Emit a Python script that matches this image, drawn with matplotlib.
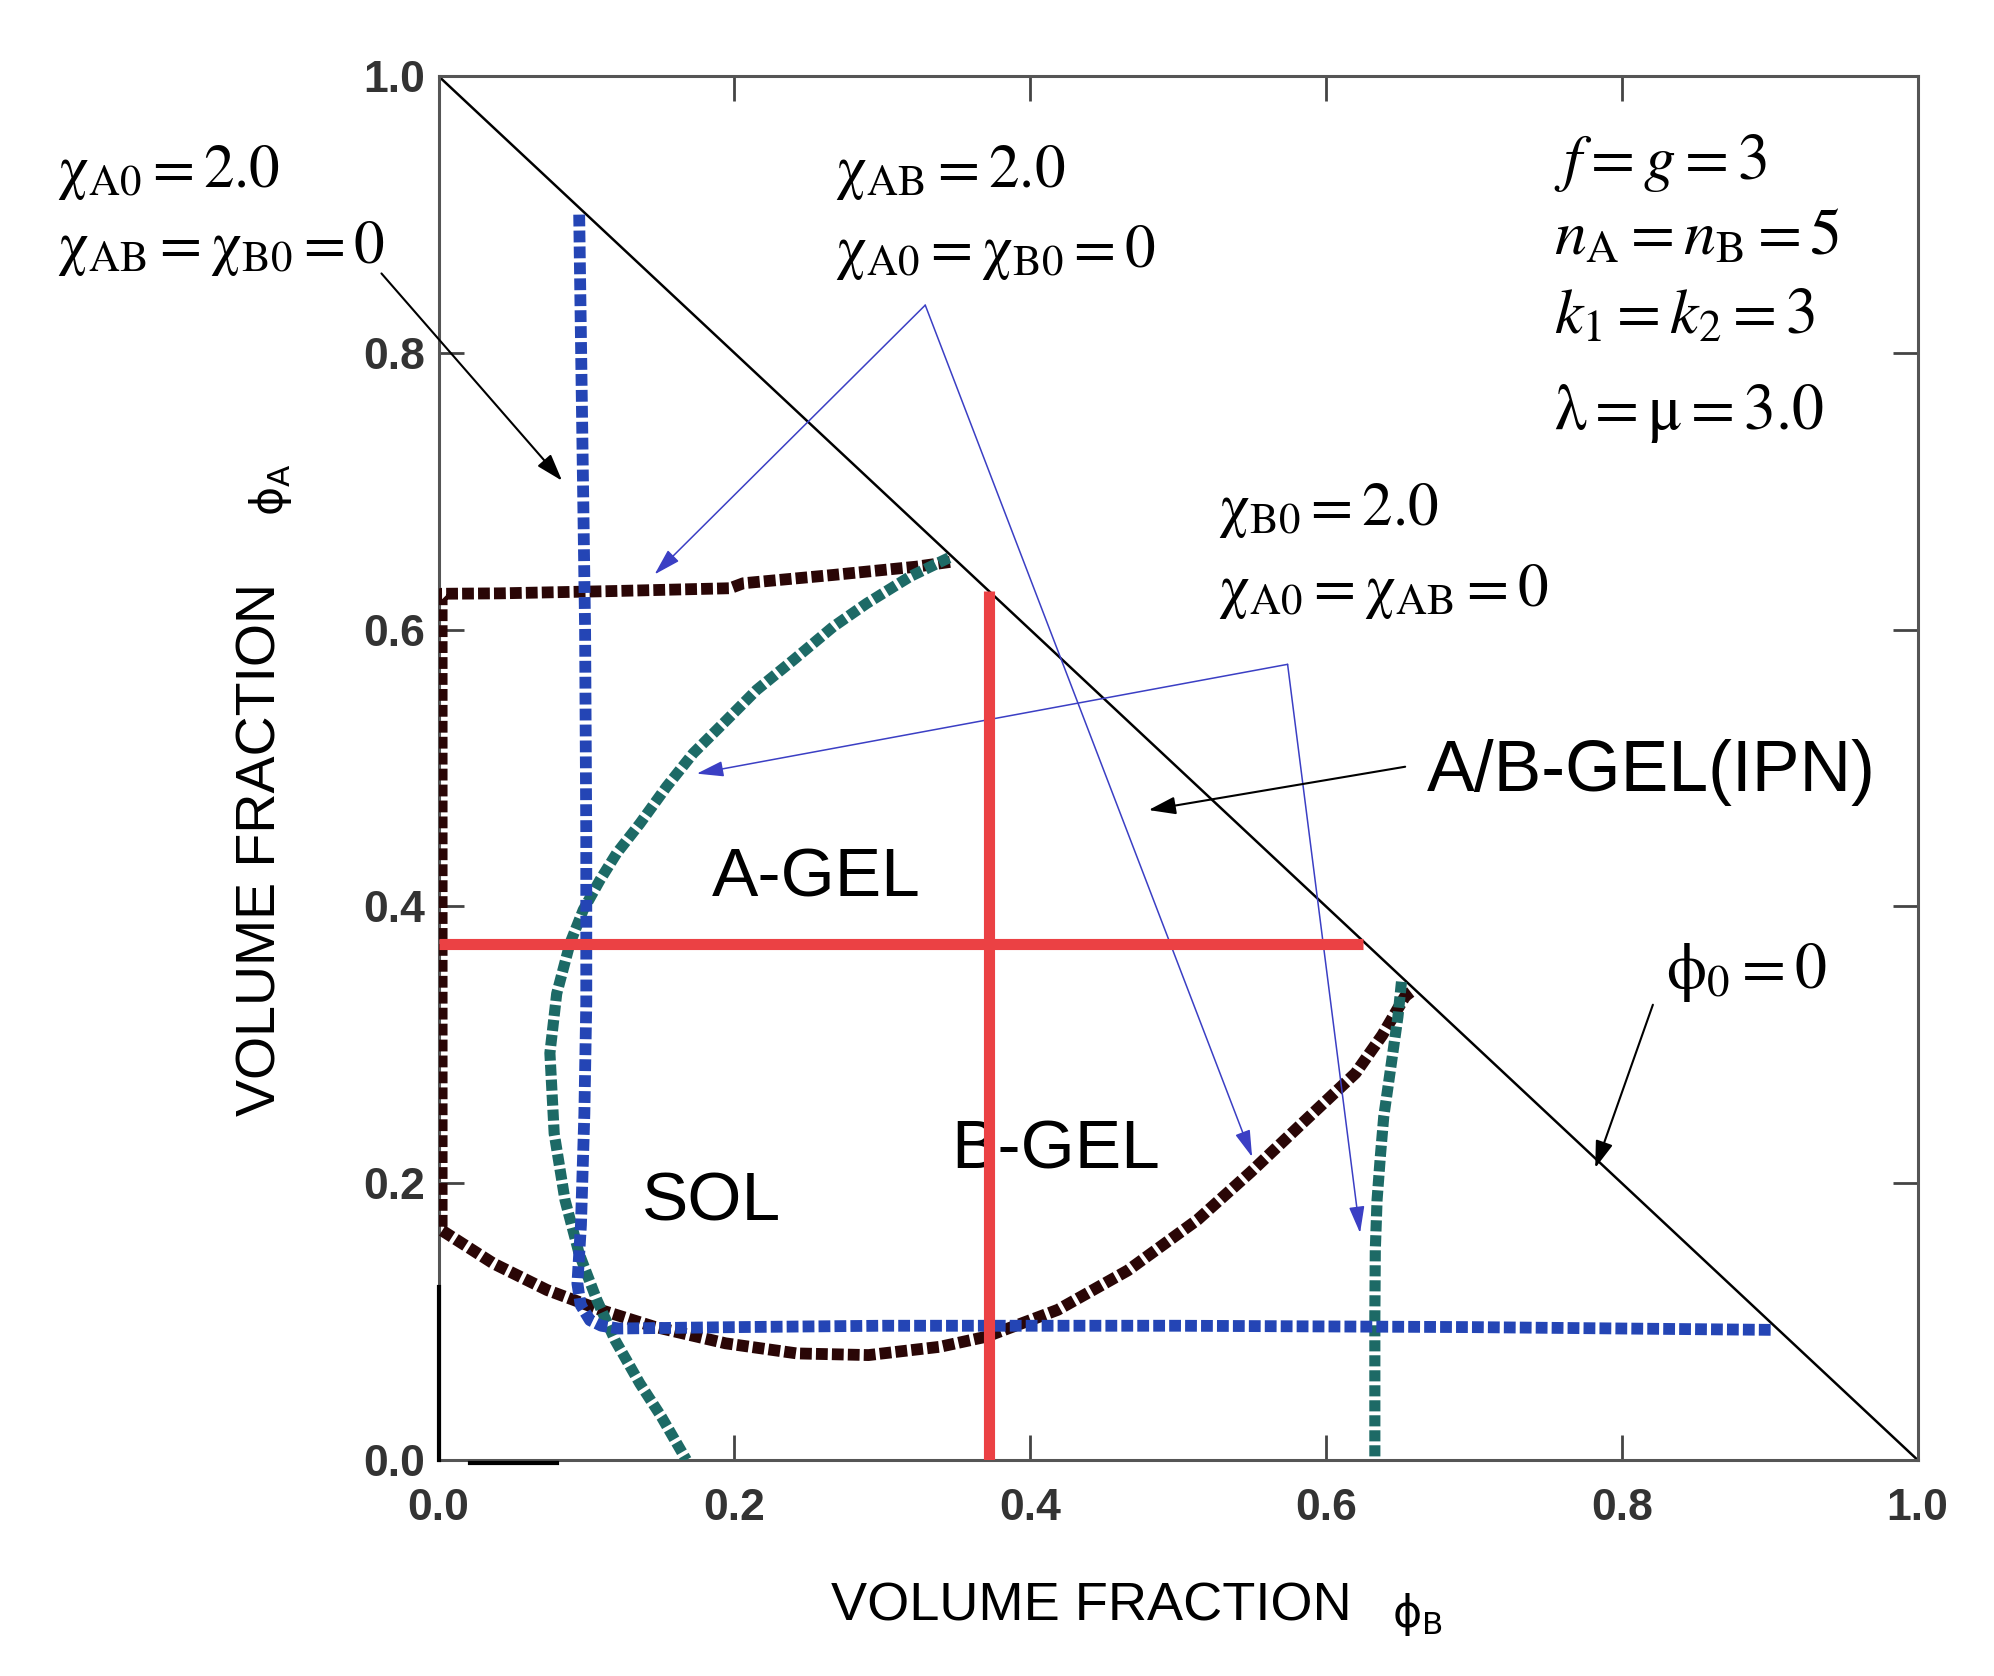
import matplotlib
matplotlib.use("Agg")
import matplotlib.pyplot as plt

plt.rcParams["mathtext.fontset"] = "stix"
plt.rcParams["font.family"] = ["Liberation Sans", "DejaVu Sans"]

# boundary curves (phi_B, phi_A)
blue_x = [0.095, 0.097, 0.099, 0.0998, 0.0998, 0.0985, 0.0962, 0.0938, 0.096, 0.1023,
          0.110, 0.1216, 0.2, 0.3, 0.4, 0.5, 0.6, 0.7, 0.8, 0.903]
blue_y = [0.900, 0.75, 0.60, 0.45, 0.33, 0.25, 0.17, 0.1275, 0.112, 0.101,
          0.097, 0.095, 0.096, 0.097, 0.097, 0.097, 0.0965, 0.096, 0.095, 0.094]

brown_x = [0.3457, 0.3231, 0.2668, 0.206, 0.197, 0.12, 0.0414, 0.002, 0.002, 0.002,
           0.002, 0.037, 0.0733, 0.1095, 0.1457, 0.194, 0.2422, 0.2906, 0.339, 0.370,
           0.4186, 0.466, 0.513, 0.549, 0.584, 0.620, 0.638, 0.6534, 0.659]
brown_y = [0.649, 0.6456, 0.6396, 0.6336, 0.630, 0.628, 0.6263, 0.626, 0.45, 0.30,
           0.166, 0.142, 0.1228, 0.1084, 0.0963, 0.0843, 0.077, 0.0758, 0.0818, 0.089,
           0.1085, 0.137, 0.1735, 0.208, 0.2434, 0.2796, 0.307, 0.335, 0.3396]

teal1_x = [0.345, 0.3187, 0.2894, 0.2668, 0.2397, 0.215, 0.1947, 0.1721, 0.1541, 0.1361,
           0.1203, 0.109, 0.0977, 0.0888, 0.0798, 0.0752, 0.0757, 0.0781, 0.0854, 0.095,
           0.107, 0.1192, 0.136, 0.1506, 0.1675]
teal1_y = [0.652, 0.6384, 0.619, 0.6022, 0.578, 0.5565, 0.5347, 0.5107, 0.4866, 0.46,
           0.4384, 0.419, 0.3974, 0.3734, 0.337, 0.294, 0.2842, 0.236, 0.1879, 0.149,
           0.1155, 0.0867, 0.0553, 0.0312, 0.0]

teal2_x = [0.651, 0.6486, 0.6438, 0.639, 0.6367, 0.6345, 0.6333, 0.633, 0.633]
teal2_y = [0.3456, 0.3203, 0.284, 0.248, 0.2192, 0.188, 0.1517, 0.1035, 0.0]

# red guide lines
red_v_x, red_v_y = [0.372, 0.372], [0.0, 0.628]
red_h_x, red_h_y = [0.0, 0.625], [0.373, 0.373]

diag_x, diag_y = [0.0, 1.0], [1.0, 0.0]

ticks = [0.0, 0.2, 0.4, 0.6, 0.8, 1.0]
tick_labels = ["0.0", "0.2", "0.4", "0.6", "0.8", "1.0"]

fig = plt.figure(figsize=(19.94, 16.76), dpi=100)
ax = fig.add_axes([0.220, 0.1289, 0.7417, 0.8256])
ax.set_xlim(0, 1)
ax.set_ylim(0, 1)

ax.plot(diag_x, diag_y, color="black", lw=1.8, zorder=2)

dot = (0, (1, 0.35))
ax.plot(brown_x, brown_y, color="#2a0606", lw=8.5, ls=dot, dash_capstyle="butt", zorder=3)
ax.plot(teal1_x, teal1_y, color="#1d6a66", lw=8, ls=dot, dash_capstyle="butt", zorder=3)
ax.plot(teal2_x, teal2_y, color="#1d6a66", lw=8, ls=dot, dash_capstyle="butt", zorder=3)
ax.plot(blue_x, blue_y, color="#2445b5", lw=8.5, ls=dot, dash_capstyle="butt", zorder=4)

ax.plot(red_v_x, red_v_y, color="#eb4144", lw=8, solid_capstyle="butt", zorder=5)
ax.plot(red_h_x, red_h_y, color="#eb4144", lw=8, solid_capstyle="butt", zorder=5)

# stray dark strokes near the origin
ax.plot([0.0, 0.0], [0.0, 0.125], color="black", lw=3, clip_on=False, zorder=6)
ax.plot([0.021, 0.080], [-0.002, -0.002], color="black", lw=3, clip_on=False, zorder=6)

for s in ax.spines.values():
    s.set_color("#555555")
    s.set_linewidth(2.2)
ax.set_xticks(ticks)
ax.set_yticks(ticks)
ax.set_xticklabels(tick_labels)
ax.set_yticklabels(tick_labels)
ax.tick_params(direction="in", length=18, width=2, color="#444444", top=True, right=True,
               labelsize=32, labelcolor="#333333")
ax.tick_params(axis="x", pad=20)
ax.tick_params(axis="y", pad=10)
for lab in ax.get_xticklabels() + ax.get_yticklabels():
    lab.set_fontweight("bold")

# axis labels
ax.text(0.441, -0.106, "VOLUME FRACTION", ha="center", va="center", fontsize=39,
        clip_on=False)
ax.text(0.662, -0.112, r"$\mathrm{\phi}_{\mathrm{B}}$", ha="center", va="center",
        fontsize=32, math_fontfamily="dejavusans", clip_on=False)
ax.text(-0.120, 0.441, "VOLUME FRACTION", ha="center", va="center", rotation=90,
        fontsize=40, clip_on=False)
ax.text(-0.114, 0.701, r"$\mathrm{\phi}_{\mathrm{A}}$", ha="center", va="center",
        rotation=90, fontsize=32, math_fontfamily="dejavusans", clip_on=False)

# parameter annotations
serif = dict(fontsize=44, ha="left", va="baseline", clip_on=False)
ax.text(-0.258, 0.920, r"$\mathrm{\chi}_{\rm A0} = 2.0$", **serif)
ax.text(-0.258, 0.865, r"$\mathrm{\chi}_{\rm AB} = \mathrm{\chi}_{\rm B0} = 0$", **serif)
ax.text(0.268, 0.920, r"$\mathrm{\chi}_{\rm AB} = 2.0$", **serif)
ax.text(0.268, 0.862, r"$\mathrm{\chi}_{\rm A0} = \mathrm{\chi}_{\rm B0} = 0$", **serif)
ax.text(0.527, 0.6755, r"$\mathrm{\chi}_{\rm B0} = 2.0$", **serif)
ax.text(0.527, 0.617, r"$\mathrm{\chi}_{\rm A0} = \mathrm{\chi}_{\rm AB} = 0$", **serif)
ax.text(0.754, 0.926, r"$f = g = 3$", fontsize=46, ha="left", va="baseline")
ax.text(0.754, 0.871, r"$n_{\rm A} = n_{\rm B} = 5$", fontsize=46, ha="left", va="baseline")
ax.text(0.754, 0.814, r"$k_1 = k_2 = 3$", fontsize=46, ha="left", va="baseline")
ax.text(0.754, 0.745, r"$\mathrm{\lambda} = \mathrm{\mu} = 3.0$", fontsize=46, ha="left",
        va="baseline")
ax.text(0.830, 0.341, r"$\mathrm{\phi}_0 = 0$", fontsize=46, ha="left", va="baseline")

# region labels
ax.text(0.185, 0.407, "A-GEL", fontsize=50, va="baseline")
ax.text(0.3465, 0.211, "B-GEL", fontsize=50, va="baseline")
ax.text(0.1376, 0.1728, "SOL", fontsize=50, va="baseline")
ax.text(0.668, 0.4835, "A/B-GEL(IPN)", fontsize=51.5, va="baseline", clip_on=False)

# arrows
blue_arrow = dict(arrowstyle="-|>,head_length=0.55,head_width=0.16", color="#3b3fc4",
                  lw=1.1, shrinkA=0, shrinkB=0, mutation_scale=30)
black_arrow = dict(arrowstyle="-|>,head_length=0.55,head_width=0.18", color="black",
                   lw=1.5, shrinkA=0, shrinkB=0, mutation_scale=30)
ax.annotate("", xy=(0.146, 0.640), xytext=(0.329, 0.8346), arrowprops=blue_arrow)
ax.annotate("", xy=(0.550, 0.219), xytext=(0.329, 0.8346), arrowprops=blue_arrow)
ax.annotate("", xy=(0.1745, 0.496), xytext=(0.574, 0.575), arrowprops=blue_arrow)
ax.annotate("", xy=(0.623, 0.164), xytext=(0.574, 0.575), arrowprops=blue_arrow)
ax.annotate("", xy=(0.0834, 0.7077), xytext=(-0.0387, 0.8575), arrowprops=black_arrow,
            annotation_clip=False)
ax.annotate("", xy=(0.480, 0.4697), xytext=(0.6535, 0.501), arrowprops=black_arrow)
ax.annotate("", xy=(0.782, 0.211), xytext=(0.821, 0.329), arrowprops=black_arrow)

fig.savefig("out.png", dpi=100)
